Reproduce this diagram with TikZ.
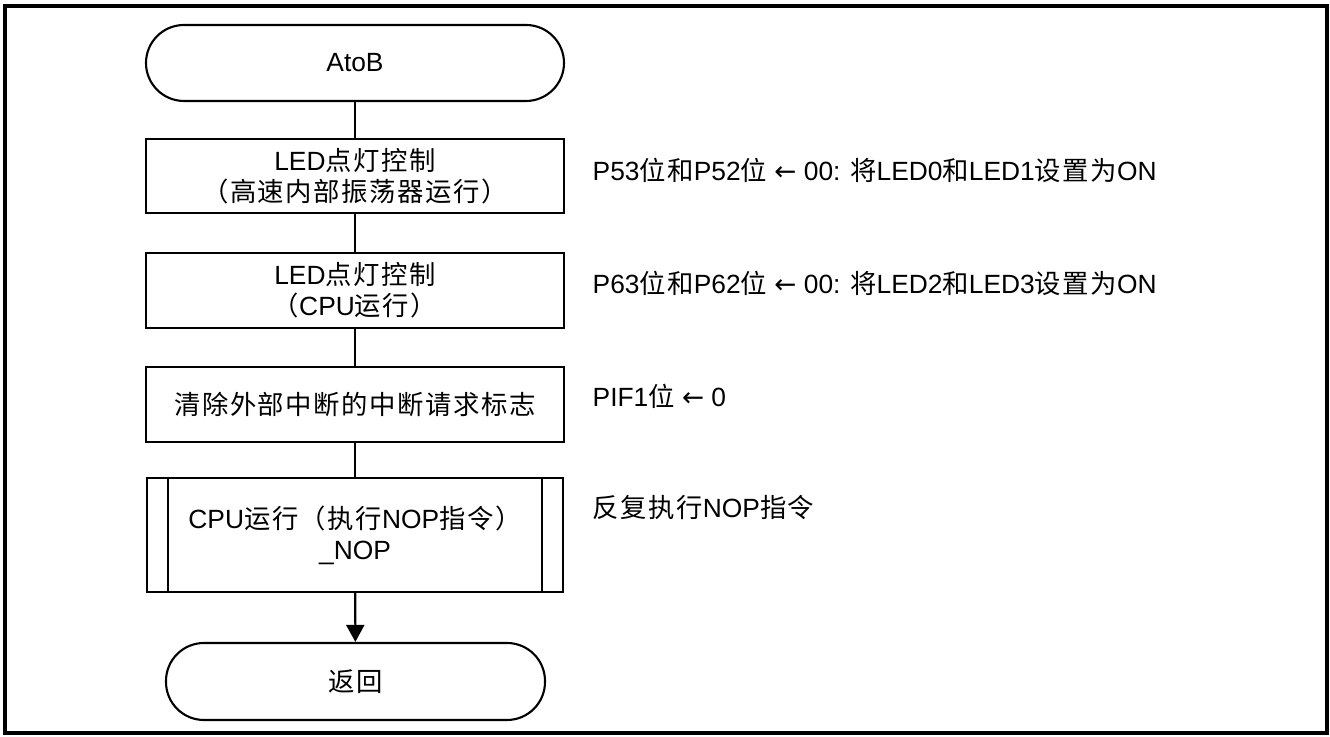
\documentclass[tikz,border=0pt]{standalone}
\usepackage{fontspec}
\setmainfont{Liberation Sans}
\newfontfamily\cjk[LetterSpace=6]{Noto Sans CJK SC}
\newfontfamily\arrowfont{DejaVu Sans}
\usetikzlibrary{arrows.meta}

\begin{document}
\begin{tikzpicture}[
		font=\fontsize{7.5}{8.9}\selectfont,
		box/.style={draw,semithick,align=center,minimum width=4.18cm,minimum height=0.75cm,inner sep=0pt},
		term/.style={box,rounded corners=0.38cm,minimum height=0.76cm},
		note/.style={anchor=west,inner sep=0pt},
		flow/.style={semithick}
	]
		\useasboundingbox (0,0) rectangle (13.3,7.37);

		%frame
		\draw[line width=0.9pt] (0.05,0.04) rectangle (13.27,7.31);

		%flow chart
		\node[term] (start) at (3.55,6.74) {AtoB};
		\node[box,minimum height=0.74cm] (ledhoco) at (3.55,5.61) {LED{\cjk 点灯控制}\\{\cjk （高速内部振荡器运行）}};
		\node[box] (ledcpu) at (3.55,4.465) {LED{\cjk 点灯控制}\\{\cjk （}CPU{\cjk 运行）}};
		\node[box] (clrflag) at (3.55,3.325) {\cjk 清除外部中断的中断请求标志};
		\node[box,minimum width=4.16cm,minimum height=1.14cm] (nop) at (3.55,2.02) {CPU{\cjk 运行（执行}NOP{\cjk 指令）}\\\_NOP};
		\node[term,minimum width=3.79cm,minimum height=0.77cm] (ret) at (3.555,0.555) {\cjk 返回};

		% sub routine bars
		\draw[flow] ([xshift=0.22cm]nop.north west) -- ([xshift=0.22cm]nop.south west);
		\draw[flow] ([xshift=-0.22cm]nop.north east) -- ([xshift=-0.22cm]nop.south east);

		% connectors
		\draw[flow] (start) -- (ledhoco);
		\draw[flow] (ledhoco) -- (ledcpu);
		\draw[flow] (ledcpu) -- (clrflag);
		\draw[flow] (clrflag) -- (nop);
		\draw[flow,-{Triangle[length=0.17cm,width=0.18cm]}] (nop) -- (ret);

		% notes
		\node[note] (notehoco) at (5.92,5.67) {P53{\cjk 位和}P52{\cjk 位} {\arrowfont ←} 00: {\cjk 将}LED0{\cjk 和}LED1{\cjk 设置为}ON};
		\node[note] (notecpu) at (5.92,4.54) {P63{\cjk 位和}P62{\cjk 位} {\arrowfont ←} 00: {\cjk 将}LED2{\cjk 和}LED3{\cjk 设置为}ON};
		\node[note] (noteflag) at (5.92,3.41) {PIF1{\cjk 位} {\arrowfont ←} 0};
		\node[note] (notenop) at (5.92,2.29) {{\cjk 反复执行}NOP{\cjk 指令}};
	\end{tikzpicture}
\end{document}
